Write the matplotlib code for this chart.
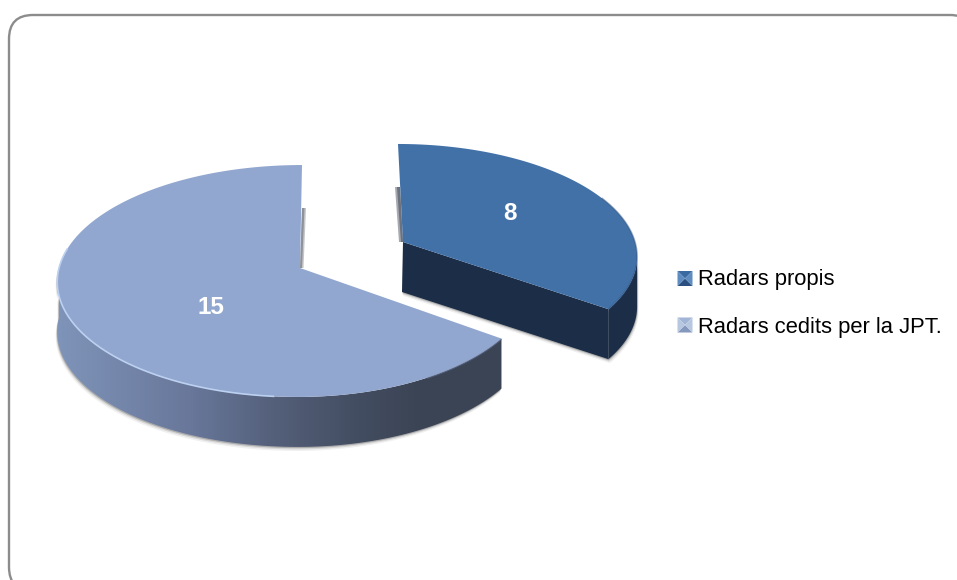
import numpy as np
import matplotlib
matplotlib.use("Agg")
import matplotlib.pyplot as plt
from matplotlib.patches import Polygon, FancyBboxPatch
from matplotlib.colors import LinearSegmentedColormap

labels = ["Radars propis", "Radars cedits per la JPT."]
values = [8, 15]
top_colors = ["#4271a8", "#92a7cf"]
small_side = "#1b2d47"

plt.rcParams["font.family"] = ["Liberation Sans", "DejaVu Sans"]

W, H = 957, 580
DEPTH = 50
apexes = [(403, 242), (300, 268)]
y_scale = [109, 114.5]
tilt = [-5, 2]
label_pos = [(510, 213), (211, 307)]
legend_y = [278.5, 325]
legend_text_y = [280, 327]


def arc(t0, t1, i):
    # clockwise arc on a slightly perspective ellipse, t in degrees
    ts = np.linspace(t0, t1, 240)
    u = np.cos(np.radians(ts))
    v = np.sin(np.radians(ts))
    w = 1 + 0.112 * v
    a = np.where(u > 0, 232, 241)
    return apexes[i][0] + a * u / w + tilt[i] * v, apexes[i][1] - y_scale[i] * v / w


def soft_shadow(ax, xy, dx=0.0):
    for grow, a in [(4, 0.06), (2.5, 0.1), (1.2, 0.2)]:
        ax.add_patch(Polygon(np.c_[xy[:, 0] + dx * grow, xy[:, 1] + grow],
                             fc="black", ec="none", alpha=a, zorder=1))


fig = plt.figure(figsize=(W / 100, H / 100), dpi=100)
ax = fig.add_axes([0, 0, 1, 1])
ax.set_xlim(0, W)
ax.set_ylim(H, 0)
ax.axis("off")

frame = FancyBboxPatch((33, 39), 917, 528, boxstyle="round,pad=24,rounding_size=24",
                       fc="white", ec="#8c8c8c", lw=1.7, zorder=0)
ax.add_patch(frame)

sweep = values[0] / sum(values) * 360
end = 90 - sweep

# big slice, side with gradient
fx, fy = arc(end, -180, 1)
side_xy = np.vstack([np.c_[fx, fy], np.c_[fx[::-1], fy[::-1] + DEPTH]])
soft_shadow(ax, side_xy, dx=-0.4)
side = Polygon(side_xy, fc="none", ec="none", zorder=2)
ax.add_patch(side)
grad = LinearSegmentedColormap.from_list(
    "side", [(0, "#7f94b9"), (0.3, "#68779a"), (0.5, "#535e78"), (0.68, "#434d61"), (0.82, "#3b4454"), (1, "#3c4556")])
im = ax.imshow(np.linspace(0, 1, 256)[None, :], cmap=grad, aspect="auto",
               extent=[fx.min(), fx.max(), 460, 260], zorder=2)
im.set_clip_path(side)
ax.set_xlim(0, W)
ax.set_ylim(H, 0)

# shaded slivers next to the cuts
ax.add_patch(Polygon([(302, 208), (306, 208), (303.5, 268), (300, 268)], fc="#c4c6ca", ec="none", zorder=2))
ax.add_patch(Polygon([(302, 208), (304.5, 208), (302, 268), (300, 268)], fc="#8f9299", ec="none", zorder=2))
ax.add_patch(Polygon([(395, 187), (400, 187), (403, 242), (399, 242)], fc="#a6a9b0", ec="none", zorder=2))
ax.add_patch(Polygon([(397, 187), (400, 187), (403, 242), (401, 242)], fc="#6d727c", ec="none", zorder=2))

# small slice side: cut face and outer wall
x0, y0 = arc(90, end, 0)
r = np.argmax(x0)
sx, sy = x0[r:], y0[r:]
wall = np.vstack([np.c_[sx, sy], np.c_[sx[::-1], sy[::-1] + DEPTH]])
cut = np.array([apexes[0], (sx[-1], sy[-1]), (sx[-1], sy[-1] + DEPTH), (apexes[0][0] - 1, apexes[0][1] + DEPTH)])
soft_shadow(ax, cut, dx=0.3)
soft_shadow(ax, wall, dx=0.4)
ax.add_patch(Polygon(cut, fc=small_side, ec="none", zorder=2))
ax.add_patch(Polygon(wall, fc=small_side, ec="none", zorder=2))

# top faces
for i, (t0, t1) in enumerate([(90, end), (end, -270)]):
    x, y = arc(t0, t1, i)
    ax.add_patch(Polygon(np.vstack([[apexes[i]], np.c_[x, y]]), fc=top_colors[i], ec="none", zorder=3))
    ax.text(label_pos[i][0], label_pos[i][1], str(values[i]), color="white", fontsize=17.5,
            fontweight="bold", ha="center", va="center", zorder=5)

# edge bevels
x, y = arc(-95, -190, 1)
ax.plot(x, y, color="#bcd0f0", lw=1.2, zorder=4, solid_capstyle="butt")
x, y = arc(end, -60, 1)
ax.plot(x, y + 0.5, color="#5f6f90", lw=1.0, alpha=0.6, zorder=4, solid_capstyle="butt")
x, y = arc(25, end, 0)
ax.plot(x, y, color="#2c5180", lw=1.2, alpha=0.45, zorder=4, solid_capstyle="butt")

# legend with bevelled squares
side_c = ["#5f8cc0", "#b8c7e0"]
top_c = ["#3a6aa2", "#a3b5d6"]
bottom_c = ["#2a4f80", "#8598bd"]
s = 7.5
for i, name in enumerate(labels):
    cx, cy = 685, legend_y[i]
    a, b, c, d = (cx - s, cy - s), (cx + s, cy - s), (cx + s, cy + s), (cx - s, cy + s)
    ax.add_patch(Polygon([a, b, (cx, cy)], fc=top_c[i], ec="none", zorder=6))
    ax.add_patch(Polygon([d, c, (cx, cy)], fc=bottom_c[i], ec="none", zorder=6))
    ax.add_patch(Polygon([a, d, (cx, cy)], fc=side_c[i], ec="none", zorder=6))
    ax.add_patch(Polygon([b, c, (cx, cy)], fc=side_c[i], ec="none", zorder=6))
    ax.text(698, legend_text_y[i], name, color="black", fontsize=15.8, ha="left", va="center", zorder=6)

fig.savefig("out.png", dpi=100)
